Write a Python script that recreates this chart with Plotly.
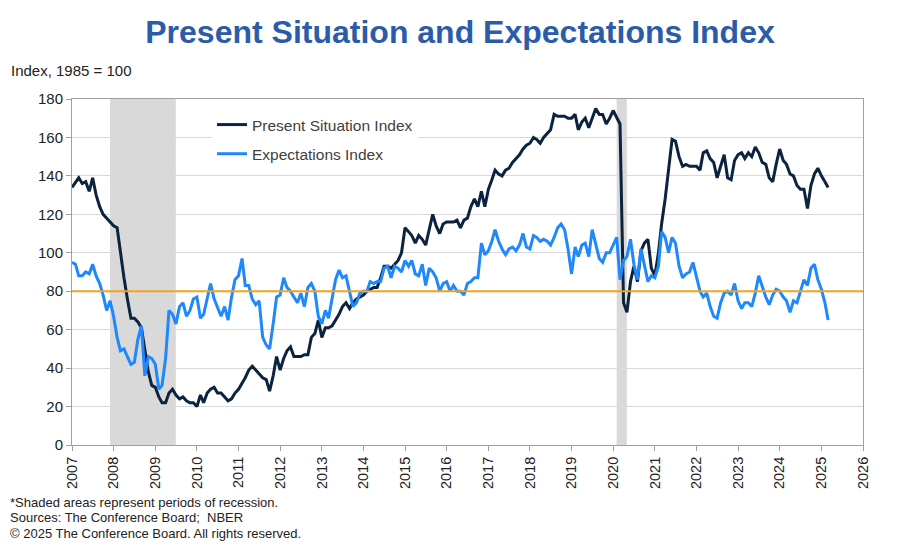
import pandas as pd
import plotly.graph_objects as go

# Monthly values, Jan 2007 - Mar 2025 (Index, 1985 = 100)
present_situation = [
    134, 137, 139, 136, 137, 132, 139, 130, 124, 120, 118, 116,  # 2007
    114, 113, 100, 87, 76, 66, 66, 64, 61, 50, 38, 31,           # 2008
    30, 25, 22, 22, 27, 29, 26, 24, 25, 23, 22, 22,              # 2009
    20, 26, 22, 27, 29, 30, 27, 27, 25, 23, 24, 27,              # 2010
    29, 32, 35, 39, 41, 39, 37, 35, 34, 28, 36, 46,              # 2011
    39, 45, 49, 51, 46, 46, 46, 47, 47, 56, 58, 65,              # 2012
    56, 61, 61, 62, 65, 68, 72, 74, 71, 74, 76, 77,              # 2013
    78, 80, 81, 82, 82, 87, 93, 93, 92, 94, 96, 100,             # 2014
    113, 111, 109, 105, 109, 107, 104, 112, 120, 114, 110, 115,  # 2015
    116, 116, 116, 117, 113, 117, 118, 124, 128, 124, 132, 124,  # 2016
    133, 138, 143, 141, 140, 143, 144, 147, 149, 151, 154, 156,  # 2017
    157, 160, 159, 157, 160, 162, 164, 172, 171, 171, 171, 170,  # 2018
    170, 172, 164, 168, 170, 165, 170, 175, 172, 172, 167, 170,  # 2019
    174, 170, 167, 74, 69, 85, 93, 85, 101, 105, 107, 92,        # 2020
    88, 100, 115, 128, 145, 159, 158, 150, 145, 146, 145, 145,   # 2021
    145, 143, 152, 153, 149, 147, 139, 145, 151, 139, 138, 148,  # 2022
    151, 152, 149, 152, 150, 155, 152, 147, 146, 139, 137, 146,  # 2023
    154, 148, 146, 141, 140, 135, 133, 133, 123, 135, 141, 144,  # 2024
    140, 137, 134,                                               # 2025
]

expectations = [
    95, 94, 88, 88, 90, 89, 94, 88, 84, 78, 70, 75,              # 2007
    67, 56, 49, 50, 46, 42, 43, 55, 62, 36, 46, 45,              # 2008
    42, 29, 31, 45, 70, 68, 63, 72, 74, 67, 70, 76,              # 2009
    77, 66, 68, 76, 84, 76, 71, 67, 72, 65, 77, 86,              # 2010
    88, 97, 83, 83, 76, 73, 75, 56, 52, 50, 63, 77,              # 2011
    78, 87, 82, 80, 77, 74, 79, 72, 82, 84, 80, 67,              # 2012
    63, 70, 66, 76, 86, 91, 87, 88, 80, 72, 74, 79,              # 2013
    80, 80, 85, 84, 85, 85, 92, 93, 87, 93, 92, 90,              # 2014
    96, 93, 96, 89, 88, 94, 83, 92, 90, 87, 80, 84,              # 2015
    85, 80, 83, 80, 80, 78, 84, 85, 87, 87, 105, 99,             # 2016
    101, 106, 112, 106, 102, 99, 102, 103, 101, 104, 110, 103,   # 2017
    102, 109, 108, 106, 107, 106, 104, 108, 113, 115, 112, 102,  # 2018
    89, 103, 98, 104, 105, 98, 112, 104, 97, 95, 100, 100,       # 2019
    104, 108, 86, 96, 98, 107, 94, 86, 102, 93, 85, 88,          # 2020
    87, 93, 111, 108, 100, 108, 105, 93, 87, 89, 90, 95,         # 2021
    87, 80, 77, 79, 72, 67, 66, 74, 79, 80, 78, 84,              # 2022
    75, 71, 74, 74, 72, 79, 88, 82, 77, 73, 78, 81,              # 2023
    80, 77, 75, 69, 75, 74, 80, 86, 83, 92, 94, 86,              # 2024
    81, 74, 65,                                                  # 2025
]

recessions = [("2007-12-01", "2009-06-30"), ("2020-02-01", "2020-04-30")]
benchmark = 80
x_range = ["2007-01-01", "2026-01-01"]

dates = pd.date_range("2007-01-01", periods=len(present_situation), freq="MS")

FONT = "Arial, Liberation Sans, sans-serif"

# page is drawn with an 8px body margin, so the figure is 8px smaller
W, H = 890, 538
L, T = 64, 91
PW, PH = 791, 346


def px(x):
    # reference-image x pixel -> paper fraction
    return (x - 8 - L) / PW


def py(y):
    # reference-image y pixel -> paper fraction
    return (T + PH - (y - 8)) / PH


fig = go.Figure()

fig.add_trace(go.Scatter(
    x=dates, y=present_situation, name="Present Situation Index",
    mode="lines", line=dict(color="#0c2340", width=3),
    legendgroup="a",
))
fig.add_trace(go.Scatter(
    x=dates, y=expectations, name="Expectations Index",
    mode="lines", line=dict(color="#1f88fc", width=3),
    legendgroup="b",
))
fig.add_trace(go.Scatter(
    x=x_range, y=[benchmark, benchmark], mode="lines",
    line=dict(color="#f5a31c", width=2), showlegend=False, hoverinfo="skip",
))

# recession shading
for start, end in recessions:
    fig.add_vrect(x0=start, x1=end, fillcolor="#d9d9d9", opacity=1,
                  line_width=0, layer="below")

fig.update_layout(
    width=W, height=H,
    margin=dict(l=L, r=W - L - PW, t=T, b=H - T - PH, autoexpand=False),
    paper_bgcolor="white", plot_bgcolor="white",
    font=dict(family=FONT, size=14, color="#222222"),
    title=dict(
        text="<b>Present Situation and Expectations Index</b>",
        x=(460 - 8) / W, y=1 - (32 - 8) / H, xref="container", yref="container",
        xanchor="center", yanchor="middle",
        font=dict(size=32, color="#2a5caa", family=FONT),
    ),
    legend=dict(
        x=px(212), y=py(108), xanchor="left", yanchor="top",
        bgcolor="white", borderwidth=0,
        font=dict(size=15.5, color="#404040"),
        traceorder="grouped", tracegroupgap=6,
        itemwidth=30,
    ),
    showlegend=True,
)

fig.update_xaxes(
    type="date", range=x_range,
    dtick="M12", tickformat="%Y", tickangle=-90,
    ticks="outside", ticklen=5, tickcolor="#a0a0a0",
    showgrid=False, showline=True, linecolor="#a0a0a0", linewidth=1,
    mirror=True, tickfont=dict(size=14.5, color="#222222"),
)
fig.update_yaxes(
    range=[0, 180], dtick=20,
    ticks="outside", ticklen=5, tickcolor="#a0a0a0",
    showgrid=True, gridcolor="#d9d9d9", gridwidth=1,
    showline=True, linecolor="#a0a0a0", linewidth=1, mirror=True,
    tickfont=dict(size=15, color="#222222"), zeroline=False,
)

fig.add_annotation(
    text="Index, 1985 = 100", xref="paper", yref="paper",
    x=px(9), y=py(71), xanchor="left", yanchor="middle",
    showarrow=False, font=dict(size=15, color="#222222"),
)

notes = [
    "*Shaded areas represent periods of recession.",
    "Sources: The Conference Board;  NBER",
    "\u00a9 2025 The Conference Board. All rights reserved.",
]
for i, line in enumerate(notes):
    fig.add_annotation(
        text=line, xref="paper", yref="paper",
        x=px(8), y=py(502 + 15.5 * i),
        xanchor="left", yanchor="middle", showarrow=False,
        font=dict(size=13, color="#222222"),
    )

fig.write_html("out.html")
